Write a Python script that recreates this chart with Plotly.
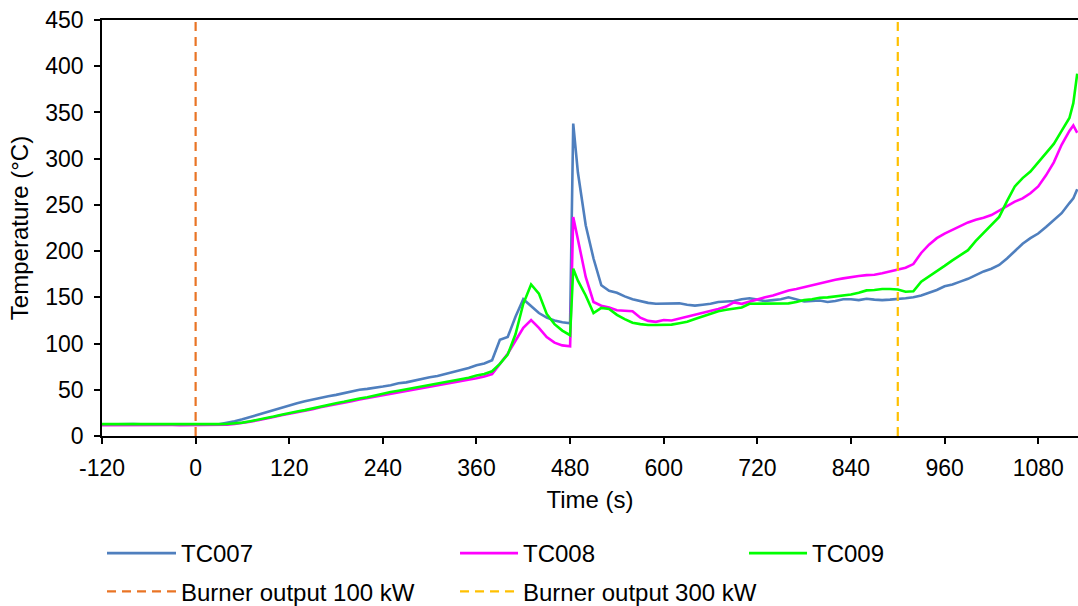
import plotly.graph_objects as go

# Sample times (s): 10 s steps, with extra samples at the flash-over spike and at the end
TIME = list(range(-120, 481, 10)) + [484] + list(range(490, 1121, 10)) + [1125, 1130]

TC007 = [
    12.5, 12.7, 12.6, 12.5, 12.8, 12.6, 12.5, 12.4, 12.6, 12.5,      # -120 .. -30
    12.4, 12.3, 12.3, 12.4, 12.5, 12.6, 14.0, 16.0, 18.0, 20.5,      # -20 .. 70
    23.5, 26.0, 28.0, 31.0, 33.5, 35.5, 37.5, 39.5, 41.5, 43.0,      # 80 .. 170
    44.5, 46.5, 48.0, 50.0, 51.0, 52.0, 53.5, 55.0, 57.0, 58.0,      # 180 .. 270
    60.0, 61.5, 63.5, 65.0, 67.0, 69.0, 71.0, 73.5, 76.5, 78.5,      # 280 .. 370
    82.0, 104.0, 107.0, 129.0, 148.0, 141.0, 133.0, 128.0, 125.0, 123.0,  # 380 .. 470
    122.0, 338.0, 285.0, 228.0, 192.0, 163.0, 157.0, 155.0, 151.0, 148.0,  # 480, 484, 490 .. 560
    146.0, 144.0, 143.0, 143.0, 143.0, 143.5, 142.0, 141.0, 142.0, 143.0,  # 570 .. 660
    145.0, 145.5, 146.0, 148.0, 149.0, 147.5, 146.0, 147.0, 148.0, 150.0,  # 670 .. 760
    148.0, 145.5, 146.0, 146.5, 145.0, 146.0, 148.0, 148.0, 147.0, 148.5,  # 770 .. 860
    147.5, 147.0, 147.5, 148.0, 149.0, 150.0, 152.0, 155.0, 158.0, 162.0,  # 870 .. 960
    164.0, 167.0, 170.0, 174.0, 178.0, 181.0, 185.0, 192.0, 200.0, 208.0,  # 970 .. 1060
    214.0, 219.0, 226.0, 233.0, 241.0, 252.0, 257.0, 267.0,                # 1070 .. 1130
]

TC008 = [
    11.8, 11.9, 11.8, 11.9, 11.8, 11.8, 11.9, 11.8, 11.8, 11.9,
    11.8, 11.8, 11.9, 11.8, 11.9, 12.0, 12.3, 13.0, 14.0, 15.5,
    17.0, 18.5, 20.5, 22.5, 24.0, 25.5, 27.5, 29.0, 31.0, 32.5,
    34.5, 36.0, 37.5, 39.5, 41.0, 42.5, 44.0, 45.5, 47.0, 48.5,
    50.0, 51.5, 53.0, 54.5, 56.0, 57.5, 59.0, 60.5, 62.5, 64.5,
    67.0, 78.0, 89.0, 103.0, 117.0, 125.5, 117.0, 107.0, 101.0, 98.0,
    97.0, 237.0, 213.0, 172.0, 145.0, 141.0, 139.0, 136.0, 135.5, 135.0,
    128.0, 124.5, 123.5, 125.5, 125.0, 127.0, 129.0, 131.0, 133.0, 135.0,
    137.5, 140.0, 144.5, 143.0, 145.5, 148.0, 150.0, 152.0, 155.0, 157.5,
    159.0, 161.0, 163.0, 165.0, 167.5, 169.0, 170.5, 172.0, 173.0, 174.0,
    174.5, 176.0, 178.0, 180.0, 182.0, 186.0, 198.0, 207.0, 214.0, 219.0,
    223.0, 227.0, 231.0, 234.0, 236.0, 239.0, 244.0, 249.0, 253.5, 257.0,
    262.5, 270.0, 282.0, 296.0, 315.0, 330.0, 336.0, 328.0,
]

TC009 = [
    12.8, 12.9, 12.8, 12.8, 12.9, 12.8, 12.7, 12.8, 12.8, 12.7,
    12.7, 12.6, 12.6, 12.7, 12.7, 12.8, 13.0, 13.6, 14.5, 16.0,
    17.5, 19.5, 21.0, 23.0, 25.0, 26.5, 28.0, 30.0, 32.0, 33.5,
    35.5, 37.0, 39.0, 40.5, 42.0, 44.0, 45.5, 47.5, 49.0, 50.5,
    52.0, 54.0, 55.5, 57.0, 58.5, 60.0, 61.5, 63.0, 65.5, 67.0,
    70.0, 78.0, 88.0, 110.0, 143.0, 164.0, 154.0, 132.0, 121.0, 114.0,
    109.0, 181.0, 168.0, 152.0, 133.0, 138.5, 137.5, 131.0, 126.5, 122.5,
    121.0, 120.0, 120.0, 120.0, 120.5, 122.0, 123.5, 126.5, 129.5, 132.0,
    135.0, 136.5, 137.5, 139.0, 143.0, 143.0, 143.0, 143.0, 143.0, 143.5,
    145.0, 147.0, 148.0, 149.5, 150.0, 151.0, 152.0, 153.0, 155.0, 157.5,
    158.0, 159.0, 159.0, 158.5, 156.0, 156.5, 167.0, 172.5, 178.0, 184.0,
    190.0, 195.5, 201.0, 211.0, 220.0, 228.0, 237.0, 254.0, 270.0, 279.0,
    286.0, 296.0, 306.0, 316.0, 330.0, 344.0, 360.0, 392.0,
]

# Burner output changes (s)
BURNER_EVENTS = [0, 900]
BURNER_LABELS = ["Burner output 100 kW", "Burner output 300 kW"]

X_TICKS = [-120, 0, 120, 240, 360, 480, 600, 720, 840, 960, 1080]
X_TICK_LABELS = ["-120", "0", "120", "240", "360", "480", "600", "720", "840", "960", "1080"]
Y_TICKS = [0, 50, 100, 150, 200, 250, 300, 350, 400, 450]

FONT = "Liberation Sans, Arial, sans-serif"
FS_TICK = 23
FS = 24

fig = go.Figure()

series = [
    ("TC007", TC007, "#4F7FBE", "legend"),
    ("TC008", TC008, "#FF00FF", "legend2"),
    ("TC009", TC009, "#00FF00", "legend3"),
]
for name, vals, color, leg in series:
    fig.add_trace(go.Scatter(
        x=TIME, y=vals, name=name, mode="lines",
        line=dict(color=color, width=2.6),
        legend=leg, legendgroup=name,
    ))

burner_styles = [("#E97425", "legend"), ("#FFC000", "legend2")]
for t, label, (color, leg) in zip(BURNER_EVENTS, BURNER_LABELS, burner_styles):
    fig.add_trace(go.Scatter(
        x=[t, t], y=[Y_TICKS[0], Y_TICKS[-1]], name=label, mode="lines",
        line=dict(color=color, width=2.2, dash="9px,6px"),
        legend=leg, legendgroup=label,
    ))


def legend_box(x, itemwidth):
    return dict(
        x=x, y=-0.2284, xanchor="left", yanchor="top", orientation="v",
        font=dict(family=FONT, size=FS, color="#000000"),
        bgcolor="rgba(0,0,0,0)", traceorder="grouped", tracegroupgap=4,
        itemwidth=itemwidth,
    )


fig.update_layout(
    width=1078, height=606,
    margin=dict(l=102, r=0, t=20, b=170, autoexpand=False),
    paper_bgcolor="white", plot_bgcolor="white",
    font=dict(family=FONT, size=FS, color="#000000"),
    showlegend=True,
    legend=legend_box(0.0, 69),
    legend2=legend_box(0.3617, 58),
    legend3=legend_box(0.6578, 58),
    xaxis=dict(
        range=[-120, 1131], tickvals=X_TICKS, ticktext=X_TICK_LABELS,
        showgrid=False, zeroline=False,
        showline=True, linecolor="#000000", linewidth=1.5, mirror=True,
        ticks="outside", ticklen=6, tickwidth=1.5, tickcolor="#000000",
        ticklabelstandoff=5,
        tickfont=dict(family=FONT, size=FS_TICK, color="#000000"),
        title=dict(text="Time (s)", font=dict(family=FONT, size=FS, color="#000000"), standoff=11),
    ),
    yaxis=dict(
        range=[0, 450], tickvals=Y_TICKS,
        showgrid=False, zeroline=False,
        showline=True, linecolor="#000000", linewidth=1.5,
        ticks="outside", ticklen=6, tickwidth=1.5, tickcolor="#000000",
        ticklabelstandoff=6,
        tickfont=dict(family=FONT, size=FS_TICK, color="#000000"),
        title=dict(text="Temperature (°C)", font=dict(family=FONT, size=FS, color="#000000"), standoff=10),
    ),
)

fig.write_html("out.html")
